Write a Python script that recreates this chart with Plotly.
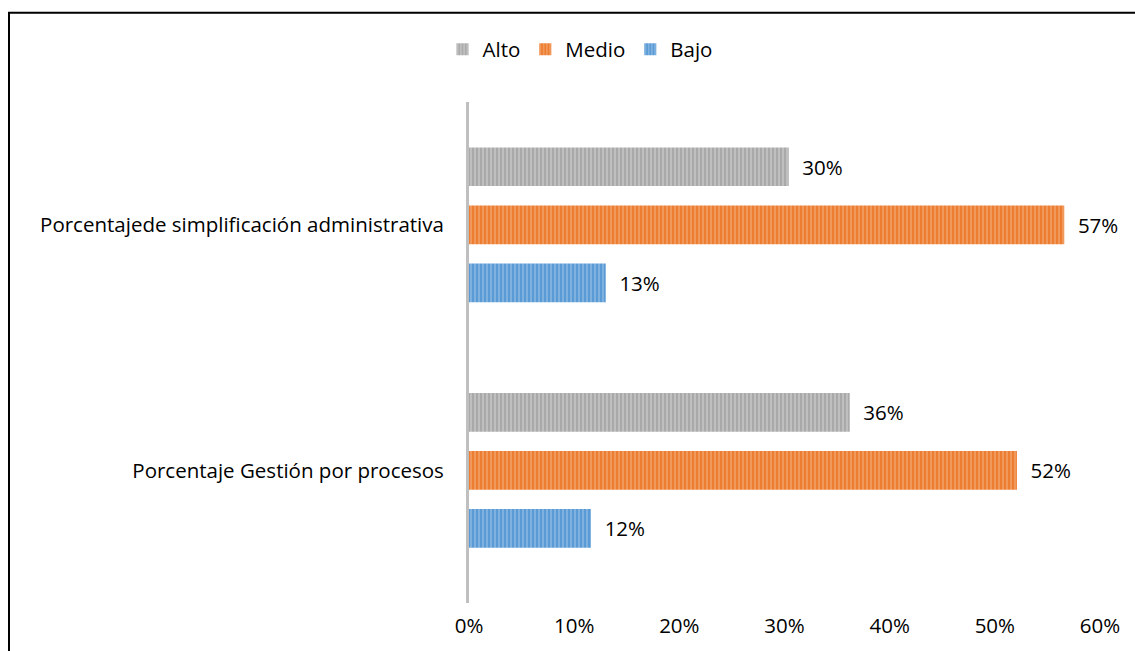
import plotly.graph_objects as go

categories = ["Porcentaje Gestión por procesos", "Porcentajede simplificación administrativa"]
series_names = ["Alto", "Medio", "Bajo"]
alto = [0.362, 0.304]
medio = [0.521, 0.566]
bajo = [0.116, 0.13]
x_ticks = [0, 0.1, 0.2, 0.3, 0.4, 0.5, 0.6]
x_tick_labels = ["0%", "10%", "20%", "30%", "40%", "50%", "60%"]

styles = {
    "Alto": ("#a9a9a9", "#dadada"),
    "Medio": ("#ed7d31", "#f7b98f"),
    "Bajo": ("#5b9bd5", "#abcdec"),
}
values = {"Alto": alto, "Medio": medio, "Bajo": bajo}

FONT = "Open Sans, Calibri, sans-serif"
FS = 20.5

fig = go.Figure()
for name in ["Bajo", "Medio", "Alto"]:
    bg, fg = styles[name]
    fig.add_trace(go.Bar(
        name=name,
        y=categories,
        x=values[name],
        orientation="h",
        marker=dict(color=bg, line=dict(width=0),
                    pattern=dict(shape="|", fgcolor=fg, bgcolor=bg, size=4, solidity=0.45, fillmode="overlay")),
        texttemplate="\u00a0\u00a0%{x:.0%}",
        textposition="outside",
        textfont=dict(family=FONT, size=FS, color="#000000"),
        cliponaxis=False,
    ))

L, R, T, B = 469, 35, 102, 44
W, H = 1135, 651
pw = W - L - R
ph = H - T - B

fig.update_layout(
    width=W, height=H,
    margin=dict(l=L, r=R, t=T, b=B),
    paper_bgcolor="white", plot_bgcolor="white",
    barmode="group", bargap=0.291, bargroupgap=0.333,
    font=dict(family=FONT, size=FS, color="#000000"),
    showlegend=True,
    legend=dict(orientation="h", traceorder="reversed", x=(580 - L) / pw, xanchor="center",
                y=1 + (T - 49) / ph, yanchor="middle", font=dict(size=FS), itemwidth=30,
                tracegroupgap=0),
    xaxis=dict(range=[0, 0.6], tickvals=x_ticks, ticktext=x_tick_labels, showgrid=False,
               zeroline=False, showline=False, ticks="", ticklabelstandoff=8),
    yaxis=dict(range=[-0.54, 1.5], showgrid=False, zeroline=False, showline=True,
               linecolor="#bfbfbf", linewidth=3, ticks="", ticklabelstandoff=18),
    shapes=[dict(type="rect", xref="paper", yref="paper",
                 x0=(9 - L) / pw, x1=(W + 10 - L) / pw,
                 y0=-(H + 10 - T - ph) / ph, y1=(ph + T - 12) / ph,
                 line=dict(color="black", width=2), fillcolor="rgba(0,0,0,0)", layer="above")],
)

fig.write_html("out.html")
